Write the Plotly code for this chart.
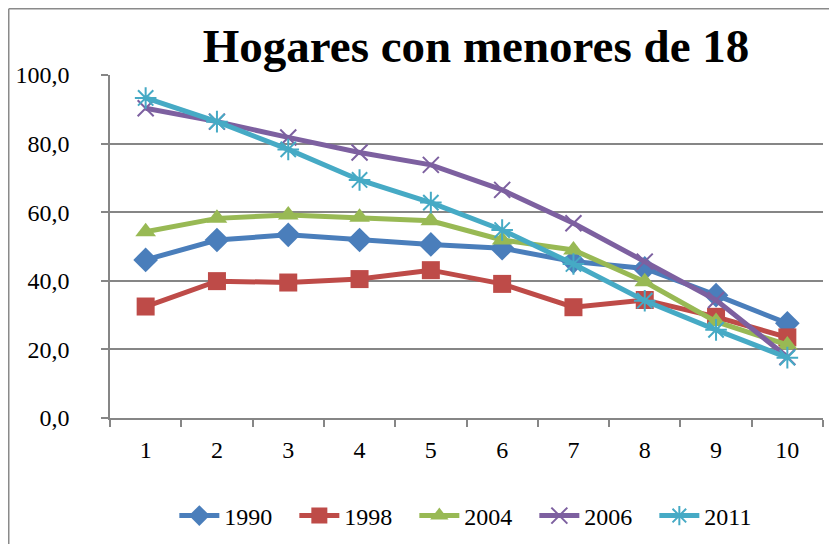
import plotly.graph_objects as go

categories = ["1", "2", "3", "4", "5", "6", "7", "8", "9", "10"]
series_names = ["1990", "1998", "2004", "2006", "2011"]
v1990 = [46.1, 51.9, 53.4, 51.9, 50.6, 49.5, 45.6, 43.6, 35.8, 27.6]
v1998 = [32.5, 39.9, 39.5, 40.5, 43.1, 39.1, 32.3, 34.4, 29.5, 23.5]
v2004 = [54.3, 58.2, 59.2, 58.5, 57.5, 51.9, 49.0, 39.7, 28.1, 21.3]
v2006 = [90.3, 86.4, 81.8, 77.4, 73.8, 66.5, 56.8, 45.6, 34.4, 17.8]
v2011 = [93.3, 86.4, 78.3, 69.4, 62.8, 54.8, 44.9, 34.2, 25.7, 17.6]
yticks = [0, 20, 40, 60, 80, 100]

colors = ["#4A7EBB", "#BE4B48", "#98B954", "#7D60A0", "#46AAC5"]
symbols = ["diamond", "square", "triangle-up", "x-thin-open", "asterisk-open"]
sizes = [19, 18, 18, 16, 18]
values = [v1990, v1998, v2004, v2006, v2011]

fig = go.Figure()
for name, vals, c, s, sz in zip(series_names, values, colors, symbols, sizes):
    marker = dict(symbol=s, size=sz, color=c)
    if s.endswith("open"):
        marker["line"] = dict(color=c, width=2)
    fig.add_trace(go.Scatter(x=categories, y=vals, name=name, mode="lines+markers",
                             line=dict(color=c, width=5), marker=marker))

# page is offset 8px by the body margin
W, H = 829, 536
L, R, T, B = 102, 14, 67, 126
pw, ph = W - L - R, H - T - B

def px(x):
    return (x - L) / pw

def py(y):
    return (H - B - y) / ph

fig.add_shape(type="line", xref="paper", yref="paper", x0=px(0.75), x1=px(0.75), y0=py(0.75), y1=py(560),
              line=dict(color="#8a8a8a", width=1.5))
fig.add_shape(type="line", xref="paper", yref="paper", x0=px(0.75), x1=px(850), y0=py(0.75), y1=py(0.75),
              line=dict(color="#8a8a8a", width=1.5))

fig.update_layout(
    width=W, height=H,
    margin=dict(l=L, r=R, t=T, b=B, autoexpand=False),
    paper_bgcolor="white", plot_bgcolor="white",
    separators=",.",
    font=dict(family="Liberation Serif", size=24, color="black"),
    title=dict(text="<b>Hogares con menores de 18</b>", x=px(468), xanchor="center", xref="paper",
               y=1 - 38 / H, yanchor="middle", font=dict(size=47, family="Liberation Serif")),
    xaxis=dict(type="category", tickson="boundaries", ticks="outside", ticklen=7, tickcolor="#868686",
               tickwidth=1.5, showline=True, linecolor="#868686", linewidth=1.5, showgrid=False,
               range=[-0.5, 9.5], tickfont=dict(size=24), ticklabelstandoff=9),
    yaxis=dict(range=[0, 100], tickvals=yticks, tickformat=".1f", showgrid=True, gridcolor="#868686",
               gridwidth=1.5, ticks="outside", ticklen=7, tickcolor="#868686", tickwidth=1.5,
               showline=True, linecolor="#868686", linewidth=1.5, zeroline=False, tickfont=dict(size=24),
               ticklabelstandoff=27),
    legend=dict(orientation="h", x=0.511, xanchor="center", y=py(508), yanchor="middle",
                font=dict(size=24), itemwidth=40, tracegroupgap=0, entrywidth=65),
    showlegend=True,
)

fig.write_html("out.html")
